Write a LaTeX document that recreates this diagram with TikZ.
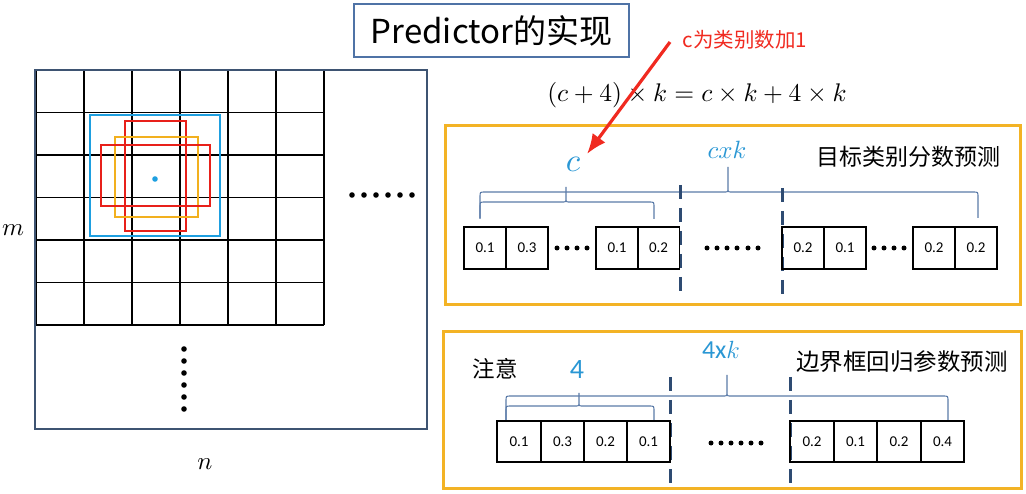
\documentclass[tikz,border=0pt]{standalone}
\usepackage{amsmath}
\usepackage{graphicx}
\usepackage{fontspec}
\usepackage{tikz}
\usetikzlibrary{arrows.meta}
\setmainfont{Carlito}
\newfontfamily\cjk{Noto Sans CJK SC}
\definecolor{framecol}{HTML}{3E5472}
\definecolor{titlecol}{HTML}{4F73A6}
\definecolor{cyanbox}{HTML}{1E9FE0}
\definecolor{redbox}{HTML}{E8201A}
\definecolor{orangebox}{HTML}{F2B01E}
\definecolor{goldframe}{HTML}{F3B325}
\definecolor{bracecol}{HTML}{5B7BA8}
\definecolor{labelblue}{HTML}{2A97D4}
\definecolor{dashcol}{HTML}{2E4B72}
\definecolor{notered}{HTML}{F02A20}
\newcommand{\fs}[1]{\fontsize{#1}{#1}\selectfont}
\newcommand{\bigmath}[2]{\scalebox{#1}{$#2$}}
\newcommand{\hbrace}[6]{%
  \draw[bracepen] (#1,#4) -- (#1,#5+5) .. controls (#1,#5) .. (#1+5,#5) -- (#3-4,#5)
    .. controls (#3,#5) .. (#3,#5-4) -- (#3,#6) -- (#3,#5-4)
    .. controls (#3,#5) .. (#3+4,#5) -- (#2-5,#5) .. controls (#2,#5) .. (#2,#5+5) -- (#2,#4);}
\tikzset{
  cellbox/.style={draw, line width=1.8pt, minimum width=42pt, minimum height=42pt, inner sep=0pt, font=\fs{15}},
  lowcell/.style={cellbox, minimum width=43.4pt, minimum height=41pt},
  bracepen/.style={draw=bracecol, line width=1.1pt},
  sepdash/.style={draw=dashcol, line width=3pt, dash pattern=on 14pt off 9pt},
  goldbox/.style={draw=goldframe, line width=3pt},
  anchorbox/.style={line width=2.8pt}
}
\begin{document}
\begin{tikzpicture}[x=1pt,y=-1pt]
  \useasboundingbox (0,0) rectangle (1026,494);
  % feature map
  \foreach \i in {0,...,6} \draw[line width=1.8pt] (36+48*\i,70) -- (36+48*\i,325);
  \foreach \j in {0,...,6} \draw[line width=1.8pt] (36,70+42.5*\j) -- (324,70+42.5*\j);
  \draw[framecol, line width=2.6pt] (35,70) rectangle (427,429);
  \draw[anchorbox, cyanbox] (90,115) rectangle (220,236);
  \draw[anchorbox, redbox] (125,121) rectangle (186,231);
  \draw[anchorbox, orangebox] (115,137) rectangle (198,217);
  \draw[anchorbox, redbox] (101,145) rectangle (210,206);
  \fill[cyanbox] (155,179) circle (2.8pt);
  \foreach \x in {352,364,376,388,400,412} \fill (\x,195) circle (2.8pt);
  \foreach \y in {349,361,373,385,397,409} \fill (184,\y) circle (2.8pt);
  \node (m) at (13,230) {\bigmath{2.5}{m}};
  \node (n) at (205,464) {\bigmath{2.5}{n}};

  \node[draw=titlecol, line width=1.6pt, minimum width=275pt, minimum height=53pt] (title) at (491.5,30.5) {\fs{33}\cjk Predictor的实现};
  \node (formula) at (697,95) {\bigmath{2.55}{(c+4)\times k=c\times k+4\times k}};
  \node[text=notered] (note) at (745,40) {\fs{20.5}\cjk c为类别数加1};

  % class scores
  \draw[goldbox] (445,126) rectangle (1020,305);
  \hbrace{480}{978}{728}{218}{192}{167}
  \hbrace{480}{654}{566}{219}{202}{187}
  \node[text=labelblue] (clab) at (573,164) {\bigmath{3.3}{c}};
  \node[text=labelblue] (cklab) at (727,150) {\bigmath{2.5}{cxk}};
  \node (clscap) at (908,157) {\fs{23}\cjk 目标类别分数预测};
  \draw[sepdash] (680,185) -- (680,294);
  \draw[sepdash] (782,188) -- (782,294);
  \foreach \cx/\v [count=\i] in {485/0.1, 527/0.3, 617/0.1, 658.5/0.2, 803/0.2, 845/0.1, 934/0.2, 976/0.2}
    \node[cellbox] (s\i) at (\cx,248) {\v};
  \foreach \x in {557,567,577,587,707,717,727,737,748,758,874,884,894,904} \fill (\x,248) circle (2.5pt);
  \coordinate (arrtail) at (670,42);
  \coordinate (arrtip) at (587,154);
  \draw[notered, line width=3.2pt, -{Latex[length=20pt,width=16pt]}] (arrtail) -- (arrtip);

  % box regression
  \draw[goldbox] (443,332) rectangle (1021,488);
  \hbrace{506}{948}{727}{420}{396}{375}
  \hbrace{506}{654}{579}{420}{406}{393}
  \node (attn) at (495,369) {\fs{22.5}\cjk 注意};
  \node[text=labelblue] (fourlab) at (577,370) {\fs{28}4};
  \node[text=labelblue] (fourk) at (721,350) {\fs{26}4x$k$};
  \node (regcap) at (902,362) {\fs{23.5}\cjk 边界框回归参数预测};
  \draw[sepdash] (670,377) -- (670,483);
  \draw[sepdash] (790,377) -- (790,483);
  \foreach \cx/\v [count=\i] in {519/0.1, 562.5/0.3, 605.5/0.2, 648.5/0.1, 812/0.2, 855.5/0.1, 899/0.2, 942.5/0.4}
    \node[lowcell] (r\i) at (\cx,441.5) {\v};
  \foreach \x in {711,721,731,741,751,761} \fill (\x,443) circle (2.5pt);
\end{tikzpicture}
\end{document}
